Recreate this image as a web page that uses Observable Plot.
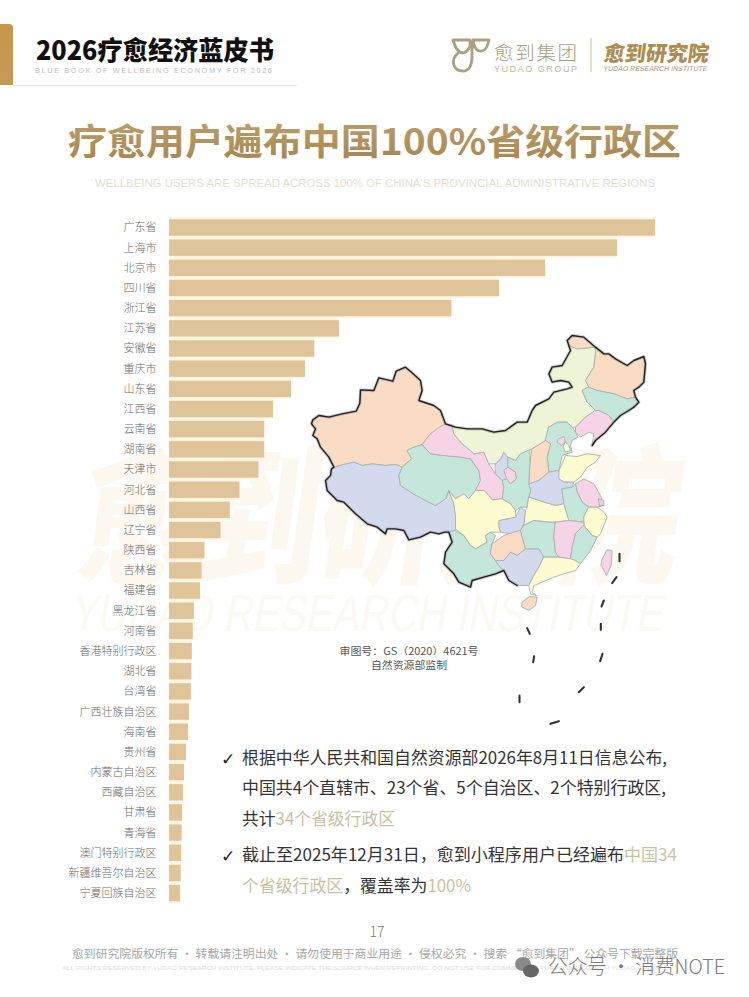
<!DOCTYPE html>
<html lang="zh">
<head>
<meta charset="utf-8">
<script src="https://cdn.jsdelivr.net/npm/d3@7"></script>
<script src="https://cdn.jsdelivr.net/npm/@observablehq/plot@0.6"></script>
<style>
  html,body{margin:0;padding:0;background:#fff}
  #page{position:relative;width:749px;height:997px;overflow:hidden;background:#fff;font-family:"Noto Sans CJK SC",sans-serif}
  #page>svg,#page>div{position:absolute;left:0;top:0}
  #map{left:300px!important;top:330px!important}
</style>
</head>
<body>
<div id="page"></div>
<script>
// ---------- bar data (share of users, largest = 100) ----------
const provinces = ["广东省","上海市","北京市","四川省","浙江省","江苏省","安徽省","重庆市","山东省","江西省","云南省","湖南省","天津市","河北省","山西省","辽宁省","陕西省","吉林省","福建省","黑龙江省","河南省","香港特别行政区","湖北省","台湾省","广西壮族自治区","海南省","贵州省","内蒙古自治区","西藏自治区","甘肃省","青海省","澳门特别行政区","新疆维吾尔自治区","宁夏回族自治区"];
const shares = [100,92.2,77.4,67.9,58.1,35.0,29.9,28.0,25.1,21.4,19.6,19.6,18.4,14.5,12.5,10.6,7.3,6.7,6.4,5.1,4.9,4.7,4.6,4.5,4.1,3.9,3.5,3.1,2.9,2.7,2.6,2.5,2.4,2.3];

// ---------- map outlines, in map units ----------
const xinjiang=[[37,268],[55,255],[85,260],[125,250],[167,242],[178,218],[180,178],[220,180],[235,142],[277,152],[287,122],[315,110],[333,125],[360,150],[365,180],[355,210],[400,225],[420,240],[435,280],[410,295],[390,310],[365,342],[335,352],[320,360],[333,385],[305,410],[285,402],[255,405],[215,400],[185,405],[160,395],[130,402],[100,410],[85,380],[60,350],[50,325],[37,315],[45,295],[33,280]];
const tibet=[[100,410],[130,402],[160,395],[185,405],[215,400],[255,405],[285,402],[305,410],[295,435],[300,465],[335,488],[375,510],[405,525],[435,505],[445,480],[460,520],[465,555],[465,600],[450,605],[433,605],[415,610],[390,605],[360,620],[325,628],[310,600],[285,595],[260,595],[255,610],[230,590],[200,580],[165,550],[130,515],[110,510],[80,480],[75,450],[90,435],[93,415]];
const qinghai=[[320,360],[335,352],[365,342],[390,370],[430,375],[480,380],[510,385],[535,420],[540,450],[525,480],[505,505],[490,490],[465,505],[445,480],[435,505],[405,525],[375,510],[335,488],[300,465],[295,435],[305,410],[333,385]];
const gansu=[[435,280],[455,285],[460,310],[485,340],[510,360],[520,370],[550,365],[565,400],[585,430],[605,450],[610,470],[605,505],[575,508],[565,495],[550,480],[525,480],[540,450],[535,420],[510,385],[480,380],[430,375],[390,370],[365,342],[390,310],[410,295]];
const gansuEast=[[610,420],[622,410],[645,425],[648,445],[630,460],[618,445]];
const ningxia=[[585,400],[600,385],[610,365],[622,380],[622,410],[610,420],[618,445],[605,450],[585,430]];
const innerMongolia=[[435,280],[465,290],[500,295],[545,295],[580,305],[615,300],[650,275],[680,275],[695,240],[705,225],[745,205],[760,185],[800,175],[815,170],[805,155],[780,150],[755,155],[745,130],[755,110],[785,105],[810,60],[805,45],[830,55],[885,50],[885,70],[880,110],[855,150],[865,170],[845,180],[860,215],[885,240],[855,260],[825,290],[815,290],[800,275],[770,275],[745,290],[735,330],[695,355],[660,370],[645,390],[622,380],[610,365],[600,385],[585,400],[565,400],[550,365],[520,370],[510,360],[485,340],[460,310],[455,285]];
const heilongjiangTip=[[815,15],[850,20],[885,50],[830,55],[805,45],[800,30]];
const heilongjiang=[[885,50],[910,70],[925,70],[945,85],[980,105],[1000,90],[1030,78],[1035,100],[1030,155],[1015,170],[1000,180],[1005,200],[980,205],[940,190],[890,180],[865,170],[855,150],[880,110],[885,70]];
const jilin=[[865,170],[890,180],[940,190],[980,205],[1005,200],[1015,215],[1000,230],[985,240],[960,255],[940,275],[925,255],[895,240],[885,240],[860,215],[845,180]];
const liaoning=[[885,240],[895,240],[925,255],[940,275],[915,305],[885,330],[875,345],[880,310],[865,305],[840,320],[825,305],[825,290],[855,260]];
const hebei=[[745,290],[770,275],[800,275],[815,290],[825,305],[832,320],[815,330],[810,345],[815,365],[785,375],[775,420],[745,425],[740,380],[750,340],[735,330]];
const beijing=[[775,325],[790,318],[795,332],[783,345],[770,335]];
const tianjin=[[795,335],[805,345],[810,360],[795,365],[788,350]];
const shanxi=[[695,355],[735,330],[750,340],[740,380],[745,425],[715,450],[685,460],[688,400]];
const shandong=[[775,420],[785,400],[795,375],[830,378],[860,370],[900,375],[885,395],[860,410],[840,440],[820,455],[790,455],[775,445]];
const henan=[[685,460],[715,450],[745,425],[775,420],[775,445],[790,455],[820,455],[815,470],[785,475],[790,520],[765,525],[730,515],[685,500],[690,480]];
const jiangsu=[[825,460],[850,445],[880,460],[900,495],[910,525],[890,530],[865,530],[845,515],[830,485]];
const anhui=[[785,475],[815,470],[825,460],[830,485],[845,515],[865,530],[850,560],[850,575],[805,570],[800,555],[790,520]];
const shanghai=[[895,505],[910,510],[910,525],[898,525]];
const zhejiang=[[865,530],[890,530],[910,545],[920,560],[900,610],[890,620],[875,615],[850,585],[850,560]];
const shaanxi=[[687,358],[660,370],[645,390],[622,380],[622,410],[645,425],[648,445],[630,460],[618,445],[605,450],[610,470],[605,505],[630,520],[645,540],[660,530],[680,530],[685,500],[690,480],[685,460],[688,400]];
const hubei=[[685,500],[730,515],[765,525],[790,520],[800,555],[805,570],[765,575],[745,575],[700,570],[670,585],[660,600],[670,580],[675,540],[680,530]];
const chongqing=[[595,570],[645,560],[660,530],[675,540],[670,580],[660,600],[630,610],[600,605],[595,590]];
const sichuan=[[445,480],[465,505],[490,490],[505,505],[525,480],[550,480],[565,495],[575,508],[605,505],[630,520],[645,540],[645,560],[595,570],[595,590],[600,605],[570,605],[555,615],[560,635],[525,655],[510,645],[490,615],[465,595],[465,555],[460,520]];
const yunnan=[[465,600],[490,615],[510,645],[525,655],[560,635],[555,615],[570,605],[585,615],[575,640],[570,670],[595,705],[610,720],[585,730],[550,740],[515,750],[510,770],[475,755],[460,730],[430,700],[435,665],[455,635],[445,605]];
const guizhou=[[575,640],[610,615],[640,605],[660,600],[665,620],[675,655],[650,675],[630,665],[610,690],[585,690],[570,670]];
const guangxi=[[595,705],[585,690],[610,690],[630,665],[650,675],[675,655],[715,655],[730,680],[715,710],[700,735],[685,765],[650,765],[625,750],[610,720]];
const hunan=[[670,585],[700,570],[745,575],[765,575],[760,620],[765,665],[775,680],[730,680],[715,655],[675,655],[665,620],[660,600]];
const jiangxi=[[765,575],[805,570],[850,575],[850,585],[825,610],[815,650],[810,685],[775,680],[765,665],[760,620]];
const fujian=[[850,585],[875,615],[890,620],[870,660],[840,700],[825,690],[810,685],[815,650],[825,610]];
const guangdong=[[730,680],[775,680],[810,685],[825,690],[840,700],[825,720],[790,730],[760,740],[725,755],[700,765],[695,785],[708,795],[690,790],[685,765],[700,735],[715,710]];
const hainan=[[665,815],[685,798],[710,800],[705,825],[685,840],[665,830]];
const taiwan=[[905,685],[920,658],[935,660],[932,705],[918,735],[902,705]];
const frontier=[[650,765],[625,750],[610,720],[585,730],[550,740],[515,750],[510,770],[475,755],[460,730],[430,700],[435,665],[455,635],[445,605],[433,605],[415,610],[390,605],[360,620],[325,628],[310,600],[285,595],[260,595],[255,610],[230,590],[200,580],[165,550],[130,515],[110,510],[80,480],[75,450],[90,435],[93,415],[100,410],[85,380],[60,350],[50,325],[37,315],[45,295],[33,280],[37,268],[55,255],[85,260],[125,250],[167,242],[178,218],[180,178],[220,180],[235,142],[277,152],[287,122],[315,110],[333,125],[360,150],[365,180],[355,210],[400,225],[420,240],[435,280],[465,290],[500,295],[545,295],[580,305],[615,300],[650,275],[680,275],[695,240],[705,225],[745,205],[760,185],[800,175],[815,170],[805,155],[780,150],[755,155],[745,130],[755,110],[785,105],[810,60],[800,30],[815,15],[850,20],[885,50],[910,70],[925,70],[945,85],[980,105],[1000,90],[1030,78],[1035,100],[1030,155],[1015,170],[1000,180],[1005,200],[1015,215],[1000,230],[985,240],[960,255],[940,275],[915,305],[885,330],[875,345]];
const seaDashes=[[[957,670],[957,692]],[[948,740],[935,758]],[[910,810],[903,828]],[[901,880],[901,898]],[[906,970],[899,992]],[[850,1070],[835,1085]],[[775,1172],[750,1180]],[[657,1095],[657,1115]],[[701,977],[698,995]],[[680,893],[688,910]]];

const tan="#f9dcc3",lime="#eef5d6",pink="#f6d3e5",teal="#c4e6db",peri="#d3daee",yellow="#fdfbd0";
const regions=[[xinjiang,tan],[tibet,peri],[qinghai,teal],[gansu,pink],[gansuEast,pink],[ningxia,peri],[innerMongolia,lime],[heilongjiangTip,tan],[heilongjiang,tan],[jilin,teal],[liaoning,pink],[hebei,teal],[beijing,pink],[tianjin,yellow],[shanxi,tan],[shandong,yellow],[henan,peri],[jiangsu,pink],[anhui,teal],[shanghai,peri],[zhejiang,yellow],[shaanxi,teal],[hubei,yellow],[chongqing,peri],[sichuan,yellow],[yunnan,teal],[guizhou,tan],[guangxi,peri],[hunan,teal],[jiangxi,pink],[fujian,teal],[guangdong,yellow],[hainan,tan],[taiwan,pink]];

// ---------- page texts ----------
const reportTitle="2026疗愈经济蓝皮书", reportSub="BLUE BOOK OF WELLBEING ECONOMY FOR 2026";
const chartTitle="疗愈用户遍布中国100%省级行政区", chartSub="WELLBEING USERS ARE SPREAD ACROSS 100% OF CHINA'S PROVINCIAL ADMINISTRATIVE REGIONS";
const footer1="愈到研究院版权所有 · 转载请注明出处 · 请勿使用于商业用途 · 侵权必究 · 搜索 “愈到集团” 公众号下载完整版";
const footer2="ALL RIGHTS RESERVED BY YUDAO RESEARCH INSTITUTE. PLEASE INDICATE THE SOURCE WHEN REPRINTING. DO NOT USE FOR COMMERCIAL PURPOSES. SEARCH YUDAO GROUP";

// ---------- decoration layer ----------
const page=document.getElementById("page");
const NS="http://www.w3.org/2000/svg";
const deco=document.createElementNS(NS,"svg");
deco.setAttribute("width",749);deco.setAttribute("height",997);deco.setAttribute("viewBox","0 0 749 997");
deco.innerHTML=`<defs>
<linearGradient id="gold" x1="0" y1="0" x2="0" y2="1"><stop offset="0" stop-color="#bda26e"/><stop offset="1" stop-color="#a5854f"/></linearGradient>
<linearGradient id="tab" x1="0" y1="0" x2="0" y2="1"><stop offset="0" stop-color="#c9964a"/><stop offset="1" stop-color="#c49a55"/></linearGradient>
</defs>`;
page.appendChild(deco);
const SANS='"Noto Sans CJK SC",sans-serif';
function T(parts,x,y,size,o={}){
  const t=document.createElementNS(NS,"text");
  t.setAttribute("x",x);t.setAttribute("y",y);t.setAttribute("font-size",size);
  t.setAttribute("font-family",o.family||SANS);t.setAttribute("font-weight",o.weight||400);
  t.setAttribute("fill",o.fill||"#333");
  if(o.anchor)t.setAttribute("text-anchor",o.anchor);
  if(o.len){t.setAttribute("textLength",o.len);t.setAttribute("lengthAdjust",o.adjust||"spacingAndGlyphs");}
  if(o.style)t.setAttribute("style",o.style);
  if(o.transform)t.setAttribute("transform",o.transform);
  (Array.isArray(parts)?parts:[[parts]]).forEach(([s,f])=>{
    const p=document.createElementNS(NS,"tspan");p.textContent=s;if(f)p.setAttribute("fill",f);t.appendChild(p);});
  deco.appendChild(t);
}
function S(tag,attrs){const e=document.createElementNS(NS,tag);for(const k in attrs)e.setAttribute(k,attrs[k]);deco.appendChild(e);}

// watermark
T("愈到研究院",0,0,150,{weight:900,fill:"#fcf8ef",len:600,transform:"translate(74,572) skewX(-8)"});
T("YUDAO RESEARCH INSTITUTE",0,0,52,{family:'"Liberation Sans",sans-serif',fill:"#fbf9f3",len:592,transform:"translate(70,631) skewX(-10)"});

// header
S("path",{d:"M0 24H9Q13 24 13 28V85H0Z",fill:"url(#tab)"});
S("rect",{x:13,y:85,width:284,height:1,fill:"#e2e2e2"});
T(reportTitle,36,60,26,{weight:900,fill:"#111",len:238});
T(reportSub,35,73,7.4,{fill:"#bdbdbd",len:237,adjust:"spacing",family:'"Liberation Sans",sans-serif'});
// logo
S("path",{d:"M453 40H470C471 47 468 52 463 53C458 53 455 47 453 40ZM489 40H473C474 49 478 52 482 51C486 50 488 45 489 40ZM458 53C450 60 453 71 463 71C470 71 472 64 472 56V42",fill:"none",stroke:"#a9a27f","stroke-width":2.8,"stroke-linejoin":"round","stroke-linecap":"round"});
T("愈到集团",494,60,19.5,{weight:300,fill:"#a89f78",len:83,adjust:"spacing"});
T("YUDAO GROUP",494,72,9,{fill:"#bdb79c",len:83,adjust:"spacing",family:'"Liberation Sans",sans-serif'});
S("rect",{x:590.5,y:38,width:1,height:34,fill:"#cdbf9a"});
T("愈到研究院",0,0,21,{weight:900,fill:"#ad8c4e",len:105,transform:"translate(603,61) skewX(-8)"});
T("YUDAO RESEARCH INSTITUTE",0,0,7,{fill:"#a8986c",len:104,adjust:"spacing",family:'"Liberation Sans Narrow",sans-serif',transform:"translate(603,71) skewX(-10)"});

// titles
T(chartTitle,68,155,36,{weight:700,fill:"url(#gold)",len:613});
T(chartSub,95,187,10,{fill:"#dfdfd2",len:560,family:'"Liberation Sans",sans-serif'});

// map note
T("审图号：GS（2020）4621号",409,655,9.8,{anchor:"middle",fill:"#555",len:139});
T("自然资源部监制",409,668.5,9.8,{anchor:"middle",fill:"#555",len:76});

// body text
const hi="#c6c3a3",ink="#343434";
T("✓",221,765,17,{family:'"DejaVu Sans",sans-serif',fill:"#222"});
T("✓",221,862,17,{family:'"DejaVu Sans",sans-serif',fill:"#222"});
T("根据中华人民共和国自然资源部2026年8月11日信息公布,",242,764,17,{len:425,fill:ink});
T("中国共4个直辖市、23个省、5个自治区、2个特别行政区,",242,794,17,{len:424,fill:ink});
T([["共计",ink],["34个省级行政区",hi]],242,825,17,{len:153});
T([["截止至2025年12月31日，愈到小程序用户已经遍布",ink],["中国34",hi]],242,861,17,{len:435});
T([["个省级行政区",hi],["，覆盖率为",ink],["100%",hi]],242,892,17,{len:229});

// footer
T("17",377,937,14,{anchor:"middle",weight:300,fill:"#777"});
T(footer1,72,958,11,{fill:"#a6a6a6",len:606});
T(footer2,62,970,5.8,{fill:"#dcdcdc",len:600,family:'"Liberation Sans",sans-serif'});
S("ellipse",{cx:523,cy:964,rx:8,ry:7,fill:"#8a8a8a"});
S("ellipse",{cx:531,cy:971,rx:8,ry:6.5,fill:"#666"});
T("公众号 · 消费NOTE",548,974,20,{weight:300,fill:"#7a7a7a",len:177});

// ---------- bar chart ----------
const table=provinces.map((p,i)=>({province:p,share:shares[i]}));
const chart=Plot.plot({
  width:749,height:997,
  marginLeft:169,marginRight:94,marginTop:217.3,marginBottom:93.9,
  style:{background:"transparent",fontFamily:SANS},
  x:{domain:[0,100],axis:null},
  y:{domain:provinces,round:false,padding:0,label:null},
  marks:[
    Plot.barX(table,{x:"share",y:"province",fill:"#fdf5df"}),
    Plot.barX(table,{x:"share",y:"province",fill:"#dfc49a",insetTop:2,insetBottom:1.8}),
    Plot.axisY({tickSize:0,tickPadding:13,fontSize:11,fill:"#6a6a6a",fontWeight:300,label:null})
  ]
});
page.appendChild(chart);

// ---------- map ----------
const ringFeature=([ring,fill])=>({type:"Feature",properties:{fill},geometry:{type:"Polygon",coordinates:[[...ring,ring[0]]]}});
const mapPlot=Plot.plot({
  width:360,height:400,margin:0,
  style:{background:"transparent",filter:"blur(0.55px)"},
  projection:{type:"identity",domain:{type:"MultiPoint",coordinates:[[0,0],[1080,1200]]}},
  marks:[
    Plot.geo(regions.map(ringFeature),{fill:d=>d.properties.fill,stroke:"#aab0ab",strokeWidth:0.9}),
    Plot.geo({type:"LineString",coordinates:frontier},{stroke:"#9a9a9a",strokeWidth:3.4,strokeOpacity:0.45}),
    Plot.geo({type:"LineString",coordinates:frontier},{stroke:"#222",strokeWidth:1.4}),
    Plot.geo({type:"MultiLineString",coordinates:seaDashes},{stroke:"#333",strokeWidth:2.1})
  ],
  color:{type:"identity"}
});
mapPlot.id="map";
page.appendChild(mapPlot);
</script>
</body>
</html>
